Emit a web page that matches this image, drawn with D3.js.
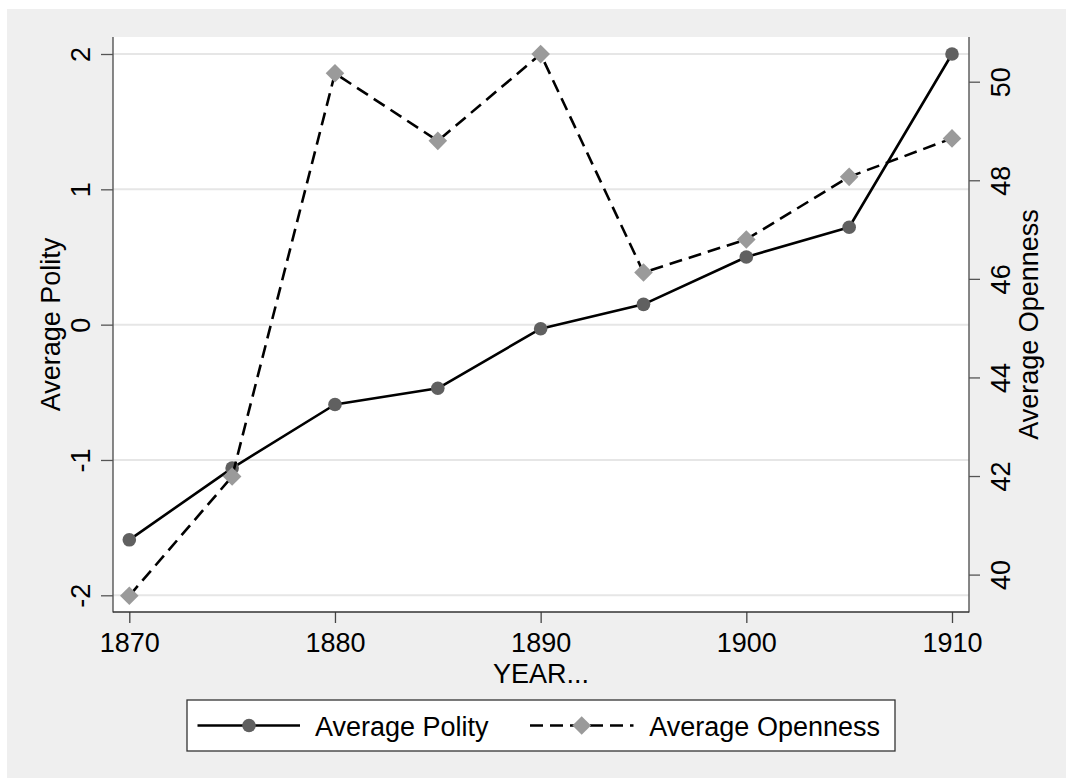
<!DOCTYPE html>
<html>
<head>
<meta charset="utf-8">
<script src="https://cdn.jsdelivr.net/npm/d3@7"></script>
<style>
  html, body { margin: 0; padding: 0; background: #ffffff; }
  svg { display: block; }
  text { font-family: "Liberation Sans", Arial, sans-serif; fill: #000; }
</style>
</head>
<body>
<svg id="chart" width="1066" height="778"></svg>
<script>
// ---- data ----
const years = [1870, 1875, 1880, 1885, 1890, 1895, 1900, 1905, 1910];
const polity = [-1.59, -1.06, -0.59, -0.47, -0.03, 0.15, 0.50, 0.72, 2.00];
const openness = [39.57, 41.99, 50.17, 48.80, 50.56, 46.13, 46.80, 48.07, 48.85];
const xTicks = [1870, 1880, 1890, 1900, 1910];
const leftTicks = [-2, -1, 0, 1, 2];
const rightTicks = [40, 42, 44, 46, 48, 50];
const seriesNames = ["Average Polity", "Average Openness"];
const xTitle = "YEAR...";
const leftTitle = "Average Polity";
const rightTitle = "Average Openness";

// ---- layout ----
const W = 1066, H = 778;
const plot = { left: 113, right: 969, top: 37, bottom: 612 };
const FS = 27;
const fmt = d => String(d);

const svg = d3.select("#chart");

// outer background
svg.append("rect").attr("x", 7).attr("y", 9).attr("width", W - 7).attr("height", H - 9).attr("fill", "#efefef");
// plot region
svg.append("rect").attr("x", plot.left).attr("y", plot.top)
  .attr("width", plot.right - plot.left).attr("height", plot.bottom - plot.top).attr("fill", "#ffffff");

const x = d3.scaleLinear().domain([1870, 1910]).range([129.3, 952]);
const yL = d3.scaleLinear().domain([-2, 2]).range([595.3, 54]);
const yR = d3.scaleLinear().domain([40, 50]).range([574.6, 81.7]);

// gridlines
svg.append("g").selectAll("line").data(leftTicks).join("line")
  .attr("x1", plot.left).attr("x2", plot.right)
  .attr("y1", d => yL(d)).attr("y2", d => yL(d))
  .attr("stroke", "#e6e6e6").attr("stroke-width", 2);

// axes
const gL = svg.append("g").attr("transform", `translate(${plot.left},0)`)
  .call(d3.axisLeft(yL).tickValues(leftTicks).tickSize(12).tickSizeOuter(0).tickFormat(fmt));
gL.select(".domain").remove();
gL.selectAll(".tick line").attr("stroke", "#555").attr("stroke-width", 1.3);
gL.selectAll(".tick text")
  .attr("x", 0).attr("y", -23).attr("dy", null)
  .attr("transform", "rotate(-90)")
  .attr("text-anchor", "middle")
  .style("font-size", FS + "px").style("font-family", "Liberation Sans, Arial, sans-serif").attr("fill", "#000");

const gR = svg.append("g").attr("transform", `translate(${plot.right},0)`)
  .call(d3.axisRight(yR).tickValues(rightTicks).tickSize(11).tickSizeOuter(0).tickFormat(fmt));
gR.select(".domain").remove();
gR.selectAll(".tick line").attr("stroke", "#555").attr("stroke-width", 1.3);
gR.selectAll(".tick text")
  .attr("x", 0).attr("y", 41).attr("dy", null)
  .attr("transform", "rotate(-90)")
  .attr("text-anchor", "middle")
  .style("font-size", FS + "px").style("font-family", "Liberation Sans, Arial, sans-serif").attr("fill", "#000");

const gB = svg.append("g").attr("transform", `translate(0,${plot.bottom})`)
  .call(d3.axisBottom(x).tickValues(xTicks).tickSize(11).tickSizeOuter(0).tickFormat(fmt));
gB.select(".domain").remove();
gB.selectAll(".tick line").attr("stroke", "#444").attr("stroke-width", 1.3);
gB.selectAll(".tick text")
  .attr("y", 40.3).attr("dy", null)
  .style("font-size", FS + "px").style("font-family", "Liberation Sans, Arial, sans-serif").attr("fill", "#000");

// axis lines
svg.append("line").attr("x1", plot.left).attr("x2", plot.left).attr("y1", plot.top).attr("y2", plot.bottom + 0.6)
  .attr("stroke", "#555").attr("stroke-width", 1.4);
svg.append("line").attr("x1", plot.right).attr("x2", plot.right).attr("y1", plot.top).attr("y2", plot.bottom + 0.6)
  .attr("stroke", "#555").attr("stroke-width", 1.4);
svg.append("line").attr("x1", plot.left).attr("x2", plot.right).attr("y1", plot.bottom).attr("y2", plot.bottom)
  .attr("stroke", "#333").attr("stroke-width", 1.3);

// titles
svg.append("text").attr("transform", `translate(60,${(plot.top + plot.bottom) / 2}) rotate(-90)`)
  .attr("text-anchor", "middle").style("font-size", FS + "px").text(leftTitle);
svg.append("text").attr("transform", `translate(1037.5,${(plot.top + plot.bottom) / 2}) rotate(-90)`)
  .attr("text-anchor", "middle").style("font-size", FS + "px").text(rightTitle);
svg.append("text").attr("x", (plot.left + plot.right) / 2).attr("y", 683)
  .attr("text-anchor", "middle").style("font-size", FS + "px").text(xTitle);

// series
const polData = years.map((yr, i) => ({ yr, v: polity[i] }));
const opnData = years.map((yr, i) => ({ yr, v: openness[i] }));

const LW = 2.6;
const DASH = "13,7";
const circleFill = "#606060";
const diamondFill = "#9a9a9a";
const dPath = (s) => `M0,${-s}L${s},0L0,${s}L${-s},0Z`;

svg.append("path").datum(polData)
  .attr("d", d3.line().x(d => x(d.yr)).y(d => yL(d.v)))
  .attr("fill", "none").attr("stroke", "#000").attr("stroke-width", LW).attr("stroke-linejoin", "round");
svg.append("g").selectAll("circle").data(polData).join("circle")
  .attr("cx", d => x(d.yr)).attr("cy", d => yL(d.v)).attr("r", 6.8).attr("fill", circleFill);

svg.append("path").datum(opnData)
  .attr("d", d3.line().x(d => x(d.yr)).y(d => yR(d.v)))
  .attr("fill", "none").attr("stroke", "#000").attr("stroke-width", LW).attr("stroke-dasharray", DASH);
svg.append("g").selectAll("path").data(opnData).join("path")
  .attr("transform", d => `translate(${x(d.yr)},${yR(d.v)})`)
  .attr("d", dPath(9.3)).attr("fill", diamondFill);

// legend
const lg = svg.append("g");
lg.append("rect").attr("x", 187).attr("y", 700).attr("width", 708).attr("height", 51)
  .attr("fill", "#fff").attr("stroke", "#333").attr("stroke-width", 1.3);
const ly = 725.5;
// item 1
lg.append("line").attr("x1", 197.5).attr("x2", 300).attr("y1", ly).attr("y2", ly)
  .attr("stroke", "#000").attr("stroke-width", LW);
lg.append("circle").attr("cx", 249).attr("cy", ly).attr("r", 6.8).attr("fill", circleFill);
lg.append("text").attr("x", 315).attr("y", 735.5).style("font-size", FS + "px").text(seriesNames[0]);
// item 2
lg.append("line").attr("x1", 530).attr("x2", 633.5).attr("y1", ly).attr("y2", ly)
  .attr("stroke", "#000").attr("stroke-width", LW).attr("stroke-dasharray", DASH);
lg.append("path").attr("transform", `translate(581.7,${ly})`).attr("d", dPath(9.3)).attr("fill", diamondFill);
lg.append("text").attr("x", 649.3).attr("y", 735.5).style("font-size", FS + "px").text(seriesNames[1]);
</script>
</body>
</html>
